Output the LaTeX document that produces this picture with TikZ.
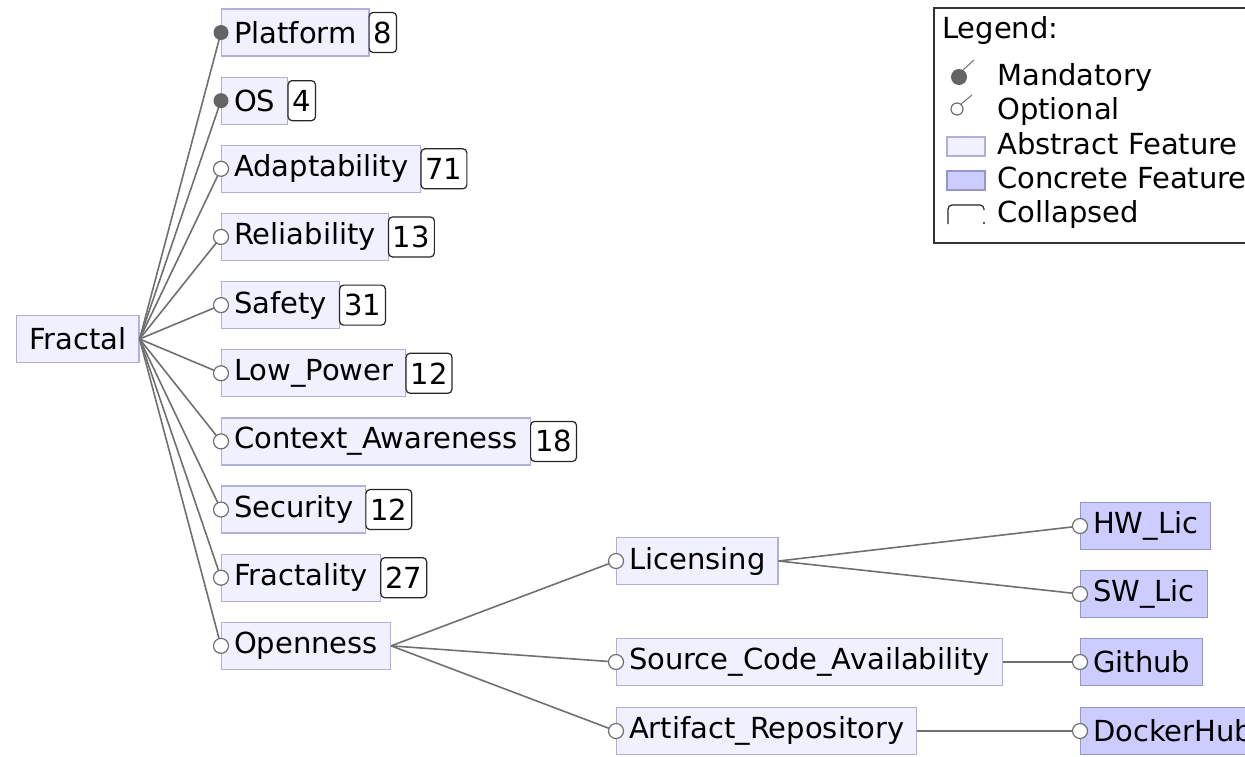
\documentclass[tikz,border=0pt]{standalone}
\usepackage{fontspec}
\setmainfont{DejaVu Sans}
\definecolor{absfill}{RGB}{240,240,255}
\definecolor{absline}{RGB}{176,176,216}
\definecolor{confill}{RGB}{204,204,255}
\definecolor{conline}{RGB}{150,150,205}
\definecolor{edgegray}{RGB}{112,112,112}
\definecolor{dotgray}{RGB}{100,100,100}
\tikzset{
  feat/.style={draw=absline,fill=absfill,line width=1.2pt,anchor=west,
    minimum height=47pt,inner xsep=12.5pt,inner ysep=0pt,font=\fontsize{29}{33}\selectfont},
  concfeat/.style={feat,draw=conline,fill=confill},
  cnt/.style={draw=black!85,fill=white,line width=1.2pt,rounded corners=4pt,anchor=west,
    minimum height=40pt,inner xsep=4.5pt,inner ysep=0pt,font=\fontsize{29}{33}\selectfont},
  legtext/.style={anchor=base west,inner sep=0pt,font=\fontsize{29}{33}\selectfont},
  edge/.style={draw=edgegray,line width=1.6pt},
  mand/.style={fill=dotgray},
  opt/.style={draw=edgegray,fill=white,line width=1.2pt},
}
\begin{document}
\begin{tikzpicture}[x=1pt,y=-1pt]
  \useasboundingbox (0,0) rectangle (1245,756);
  \clip (0,0) rectangle (1245,756);

  \node[feat] (fractal) at (16,339) {Fractal};

  % first level: name/text/count/row/kind
  \foreach \nm/\txt/\n/\r/\kind in {platform/Platform/8/0/mand, os/OS/4/1/mand,
    adapt/Adaptability/71/2/opt, reliab/Reliability/13/3/opt, safety/Safety/31/4/opt,
    lowpow/Low\_Power/12/5/opt, context/Context\_Awareness/18/6/opt,
    security/Security/12/7/opt, fractal2/Fractality/27/8/opt}
  {
    \node[feat] (\nm) at (221,{32.5+68.15*\r}) {\txt};
    \node[cnt] (\nm-cnt) at ([xshift=-1pt]\nm.east) {\n};
    \draw[edge] (fractal.east) -- (\nm.west);
    \path[\kind] (\nm.west) circle (7.5pt);
  }

  \node[feat] (open) at (221,{32.5+68.15*9}) {Openness};
  \node[feat] (licens) at (616,561) {Licensing};
  \node[feat] (source) at (616,662) {Source\_Code\_Availability};
  \node[feat] (artif) at (616,731) {Artifact\_Repository};
  \node[concfeat] (hwlic) at (1080,526) {HW\_Lic};
  \node[concfeat] (swlic) at (1080,594) {SW\_Lic};
  \node[concfeat] (github) at (1080,662) {Github};
  \node[concfeat] (docker) at (1080,731) {DockerHub};

  \draw[edge] (fractal.east) -- (open.west);
  \foreach \a/\b in {open/licens, open/source, open/artif, licens/hwlic, licens/swlic,
    source/github, artif/docker}
  {
    \draw[edge] (\a.east) -- (\b.west);
  }
  \foreach \b in {open, licens, source, artif, hwlic, swlic, github, docker}
    \path[opt] (\b.west) circle (7.5pt);

  % legend
  \draw[draw=black!80,line width=1.5pt] (934,8) rectangle (1262,243);
  \node[legtext] (legtitle) at (942,38) {Legend:};
  \node[legtext] (legmand) at (997,85) {Mandatory};
  \node[legtext] (legopt) at (997,119) {Optional};
  \node[legtext] (legabs) at (997,154) {Abstract Feature};
  \node[legtext] (legcon) at (997,188) {Concrete Feature};
  \node[legtext] (legcol) at (997,222) {Collapsed};

  \fill[dotgray] (959,77) circle (8pt);
  \draw[edgegray,line width=1pt] (963,70) -- (974,60);
  \draw[opt] (957,109) circle (6pt);
  \draw[edgegray,line width=1pt] (961,104) -- (972,95);
  \draw[absline,fill=absfill,line width=1.2pt] (947,137) rectangle (985,156);
  \draw[conline,fill=confill,line width=1.2pt] (947,171) rectangle (985,190);
  \draw[black!85,line width=1.2pt,rounded corners=4pt] (948,224) -- (948,205) -- (984,205) -- (984,210);
  \fill[black!85] (984,223) circle (1.2pt);

\end{tikzpicture}
\end{document}
